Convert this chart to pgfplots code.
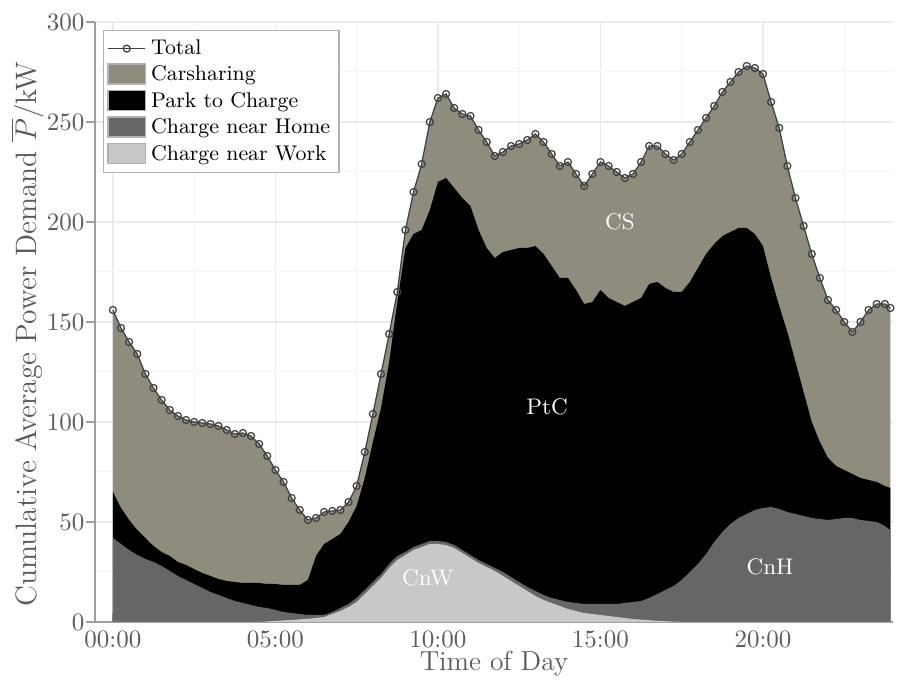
\documentclass[border=0pt]{standalone}
\usepackage{pgfplots}
\pgfplotsset{compat=1.18}
\usepackage{pgfplotstable}

\definecolor{csgray}{RGB}{143,139,125}
\definecolor{cnhgray}{RGB}{102,102,102}
\definecolor{cnwgray}{RGB}{200,200,200}
\definecolor{axgray}{RGB}{90,90,90}

\pgfplotsset{
  patchlegend/.style={legend image code/.code={%
    \filldraw[fill=#1,draw=gray!60] (0pt,-3.6pt) rectangle (15pt,4.4pt);}},
  shortline/.style={legend image code/.code={%
    \draw[mark repeat=2,mark phase=2,##1] plot coordinates {(0pt,0pt) (7.5pt,0pt) (15pt,0pt)};}},
}

% Cumulative boundaries of the stacked layers (kW), time in hours
% T: total, P: top of Park to Charge, H: top of Charge near Home, W: Charge near Work
\pgfplotstableread{
t     T     P     H     W
0.00  156   65    42    0
0.25  147   57    39    0
0.50  140   51    36    0
0.75  134   46    33.5  0
1.00  124   42    31.5  0
1.25  117   38    30    0
1.50  111   35    28    0
1.75  106   33    25.5  0
2.00  103   30    23    0
2.25  101   28.5  21    0
2.50  100   26.5  19    0
2.75  99.5  24.5  17    0
3.00  99    23    15    0
3.25  98    21.5  13.5  0
3.50  96    20.5  12    0
3.75  94    20    10.5  0
4.00  94.5  19.5  9.5   0
4.25  93    19.5  8.5   0
4.50  89    19.5  7.5   0
4.75  83    19    7     0.3
5.00  76    19    6     0.5
5.25  70    18.5  5     0.8
5.50  62    18.5  4.5   1
5.75  56    18.5  4     1.3
6.00  51    21    3.5   1.6
6.25  52    33    3.5   2
6.50  55    39    3.5   2.5
6.75  55.5  41.5  5     4
7.00  56    44    7     5.5
7.25  60    50    9     7.5
7.50  68    58    12    10
7.75  85    72    16    14
8.00  104   90    20    18
8.25  124   107   24    22
8.50  144   130   29    27
8.75  165   160   33    31
9.00  196   187   35    33.5
9.25  215   194   37.5  36
9.50  229   196   39    37.5
9.75  250   206   40.5  39
10.00 262   220   40.5  39
10.25 264   222   40    38.5
10.50 257   217   38.5  37
10.75 254   212   36    34.5
11.00 253   208   33.5  32
11.25 246   196   31    29.5
11.50 240   187   29    27.5
11.75 233   182   27    25.5
12.00 235   185   25    23
12.25 238   186   22.5  20.5
12.50 239   187   20    18
12.75 241   187   17.5  15.5
13.00 244   188   15.5  13
13.25 240   184   13.5  11
13.50 234   178   12    9.5
13.75 228   172   11    8
14.00 230   172   10    6.5
14.25 224   166   9.5   5.5
14.50 218   159   9     4.5
14.75 224   160   9     4
15.00 230   166   9     3.5
15.25 228   162   9     3
15.50 225   160   9     2.5
15.75 222   158   9.5   2
16.00 224   160   10    1.5
16.25 230   162   10.5  1.2
16.50 238   169   12    0.9
16.75 238   170   14    0.6
17.00 234   167   16    0.4
17.25 231   165   18    0.2
17.50 234   165   21    0.1
17.75 240   170   25    0
18.00 246   177   29    0
18.25 252   184   34    0
18.50 258   189   40    0
18.75 265   193   45    0
19.00 270   195   49    0
19.25 275   197   52    0
19.50 278   197   54    0
19.75 277   194   56    0
20.00 274   188   57    0
20.25 260   172   57.5  0
20.50 247   158   56.5  0
20.75 228   145   55    0
21.00 212   130   54    0
21.25 198   115   53    0
21.50 184   100   52    0
21.75 172   90    51.5  0
22.00 161   82    51    0
22.25 156   78    51.5  0
22.50 150   76    52    0
22.75 145   74    52    0
23.00 150   72    51    0
23.25 156   71    50.5  0
23.50 159   70    50    0
23.75 159   68    48    0
23.92 157   67    46    0
}\demand

\begin{document}
\begin{tikzpicture}
\begin{axis}[
  scale only axis,
  width=319.2pt, height=240pt,
  xmin=-0.55, xmax=24, ymin=0, ymax=300,
  axis lines=left,
  axis line style={-, draw=gray!75, line width=0.6pt},
  xtick={0,5,10,15,20},
  xticklabels={00:00,05:00,10:00,15:00,20:00},
  ytick={0,50,...,300},
  minor xtick={2.5,7.5,12.5,17.5,22.5},
  minor ytick={25,75,...,275},
  grid=both,
  major grid style={draw=gray!16, line width=0.5pt},
  minor grid style={draw=gray!8, line width=0.4pt},
  xtick align=inside,
  ytick align=outside,
  major tick length=3.5pt,
  minor tick length=0pt,
  tick style={draw=gray!75, line width=0.5pt},
  tick label style={font=\fontsize{10}{12}\selectfont, color=axgray},
  yticklabel style={xshift=2.8pt},
  label style={color=axgray},
  xlabel={Time of Day},
  ylabel={Cumulative Average Power Demand $\overline{P}$/kW},
  xlabel style={at={(axis description cs:0.5,-0.07)}, anchor=center,
    font=\fontsize{11}{13}\selectfont},
  ylabel style={at={(axis description cs:-0.0852,0.48)}, anchor=center,
    font=\fontsize{11.8}{14}\selectfont},
  legend cell align=left,
  legend style={
    at={(0,1)}, anchor=north west, xshift=3.2pt, yshift=-3.2pt,
    draw=gray!60, fill=white, line width=0.5pt,
    font=\fontsize{8.5}{10.2}\selectfont,
    inner xsep=1.5pt, inner ysep=1.5pt, row sep=-0.9pt,
  },
]
% legend entries
\addlegendimage{black!75, line width=0.5pt, mark=o, mark size=1.4pt, shortline}
\addlegendentry{Total}
\addlegendimage{patchlegend=csgray}
\addlegendentry{Carsharing}
\addlegendimage{patchlegend=black}
\addlegendentry{Park to Charge}
\addlegendimage{patchlegend=cnhgray}
\addlegendentry{Charge near Home}
\addlegendimage{patchlegend=cnwgray}
\addlegendentry{Charge near Work}

% stacked areas, painted from the largest cumulative boundary down
\addplot[forget plot, fill=csgray, draw=none] table[x=t, y=T] {\demand} \closedcycle;
\addplot[forget plot, fill=black, draw=none] table[x=t, y=P] {\demand} \closedcycle;
\addplot[forget plot, fill=cnhgray, draw=none] table[x=t, y=H] {\demand} \closedcycle;
\addplot[forget plot, fill=cnwgray, draw=none] table[x=t, y=W] {\demand} \closedcycle;

% total demand
\addplot[forget plot, black!75, line width=0.5pt, mark=o, mark size=1.4pt]
  table[x=t, y=T] {\demand};

% layer annotations
\node[white, font=\fontsize{9}{11}\selectfont] at (axis cs:15.6,200) {CS};
\node[white, font=\fontsize{9}{11}\selectfont] at (axis cs:13.36,107.5) {PtC};
\node[white, font=\fontsize{9}{11}\selectfont] at (axis cs:9.69,22) {CnW};
\node[white, font=\fontsize{9}{11}\selectfont] at (axis cs:20.22,27.5) {CnH};
\end{axis}
\pgfresetboundingbox
\path[use as bounding box] (-38pt,-26pt) rectangle (322pt,248.8pt);
\end{tikzpicture}
\end{document}
